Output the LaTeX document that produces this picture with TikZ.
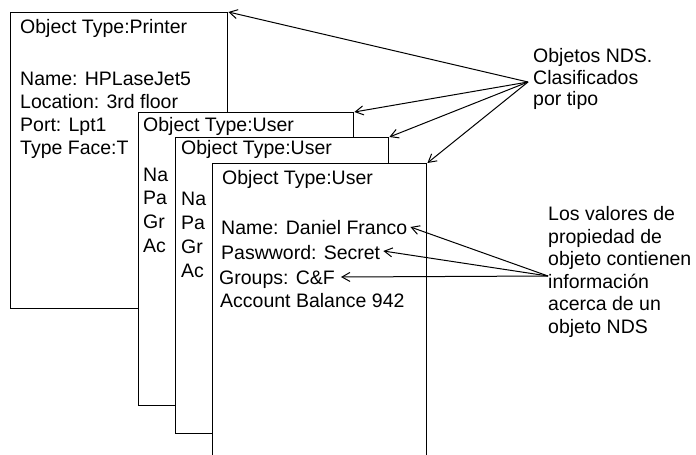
\documentclass[tikz,border=0pt]{standalone}
\usepackage{fontspec}
\setmainfont{Liberation Sans}
\usetikzlibrary{arrows.meta,calc}
\begin{document}
\begin{tikzpicture}[x=1pt,y=-1pt,
  card/.style={draw=black,fill=white,line width=1.4pt,inner sep=0pt,anchor=north west},
  txt/.style={font=\fontsize{19.5}{23}\selectfont,inner sep=0pt,anchor=base west},
  ptr/.style={line width=1pt,-{Straight Barb[length=8pt,width=9pt]}}]
\useasboundingbox (0,0) rectangle (696,455);

% printer object card
\node[card,minimum width=217pt,minimum height=296pt] (pr) at (10,12) {};
\node[txt] (prt) at (20,33) {Object Type:Printer};
\node[txt] (prn) at (20,85) {Name: HPLaseJet5};
\node[txt] (prl) at (20,108) {Location: 3rd floor};
\node[txt] (prp) at (20,131) {Port: Lpt1};
\node[txt] (prf) at (20,154) {Type Face:T};

% first user card
\node[card,minimum width=215pt,minimum height=293pt] (ua) at (138,112) {};
\node[txt] (uat) at (143,131) {Object Type:User};
\node[txt] (uan) at (143,181) {Na};
\node[txt] (uap) at (143,204) {Pa};
\node[txt] (uag) at (143,228) {Gr};
\node[txt] (uac) at (143,252) {Ac};

% second user card
\node[card,minimum width=213pt,minimum height=296pt] (ub) at (175,137) {};
\node[txt] (ubt) at (181,154) {Object Type:User};
\node[txt] (ubn) at (181,205) {Na};
\node[txt] (ubp) at (181,229) {Pa};
\node[txt] (ubg) at (181,253) {Gr};
\node[txt] (ubc) at (181,277) {Ac};

% front user card
\node[card,minimum width=214pt,minimum height=320pt] (uc) at (212,163) {};
\node[txt] (uct) at (222,184) {Object Type:User};
\node[txt] (ucn) at (221,234) {Name: Daniel Franco};
\node[txt] (ucp) at (221,259) {Paswword: Secret};
\node[txt] (ucg) at (219,284) {Groups: C\&F};
\node[txt] (ucc) at (220,307) {Account Balance 942};

% right-hand captions
\node[txt] (la) at (533,62) {Objetos NDS.};
\node[txt] (lb) at (533,84) {Clasificados};
\node[txt] (lc) at (533,105) {por tipo};
\coordinate (objs) at (528,82);

\node[txt] (va) at (548,220) {Los valores de};
\node[txt] (vb) at (548,243) {propiedad de};
\node[txt] (vc) at (548,265) {objeto contienen};
\node[txt] (vd) at (548,288) {información};
\node[txt] (ve) at (548,310) {acerca de un};
\node[txt] (vf) at (548,333) {objeto NDS};
\coordinate (vals) at (548,276);

% arrows to the objects
\draw[ptr] (objs) -- (pr.north east);
\draw[ptr] (objs) -- (ua.north east);
\draw[ptr] (objs) -- (ub.north east);
\draw[ptr] (objs) -- (uc.north east);

% arrows to the property values
\draw[ptr] (vals) -- ($(ucn.base east)+(3,-7)$);
\draw[ptr] (vals) -- ($(ucp.base east)+(3,-8)$);
\draw[ptr] (vals) -- ($(ucg.base east)+(6,-7)$);
\end{tikzpicture}
\end{document}
